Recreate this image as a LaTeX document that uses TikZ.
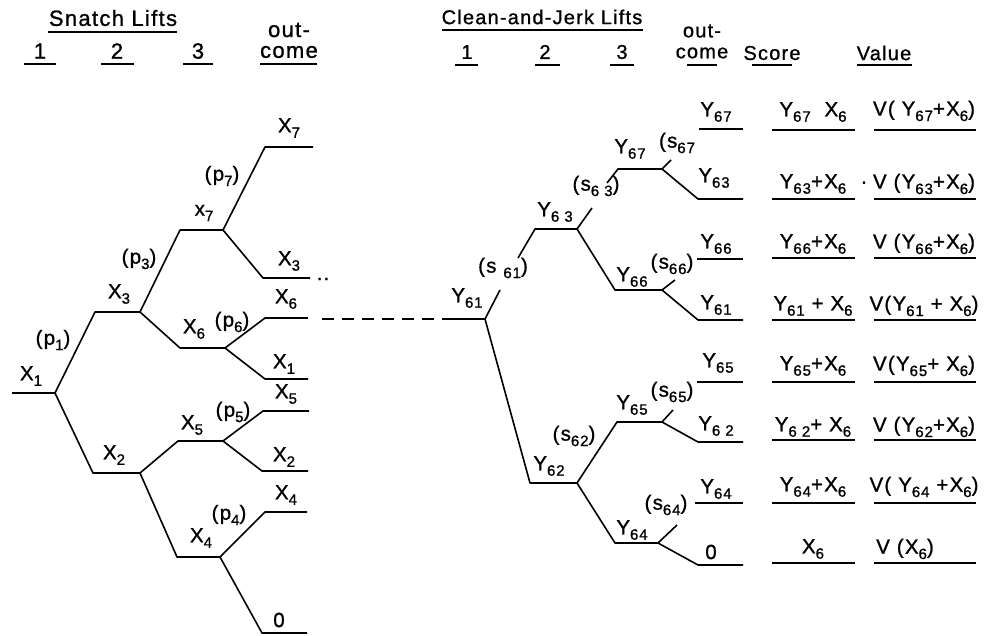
\documentclass[tikz,border=0pt]{standalone}
\usepackage{fontspec}
\setmainfont[LetterSpace=6,FakeBold=1]{Liberation Sans}
\newcommand\Sb[2]{#1\raisebox{-0.5ex}{\fontsize{15}{15}\selectfont #2}}
\begin{document}
\begin{tikzpicture}[x=1pt,y=-1pt,
  lbl/.style={inner sep=0pt,font=\fontsize{20.5}{20.5}\selectfont},
  hdr/.style={inner sep=0pt,font=\fontsize{22}{22}\selectfont},
  hdrs/.style={inner sep=0pt,font=\fontsize{20}{20}\selectfont},
  ln/.style={line width=1.6pt,line join=round},
  ul/.style={line width=1.7pt}]
\useasboundingbox[fill=white] (0,0) rectangle (985,636);

% ---------------- headers ----------------
\node[hdr] (hSL) at (113,18) {Snatch Lifts};
\draw[ul] (48,32) -- (177,32);
\node[hdr] (hL1) at (40,51) {1};
\node[hdr] (hL2) at (117,51) {2};
\node[hdr] (hL3) at (198,51) {3};
\node[hdr] (hLo1) at (289,30) {out-};
\node[hdr] (hLo2) at (289,52) {come};
\draw[ul] (24,64) -- (56,64) (101,64) -- (134,64) (183,64) -- (213,64) (260,64) -- (317,64);

\node[hdrs] (hCJ) at (542,17) {Clean-and-Jerk Lifts};
\draw[ul] (442,30) -- (643,30);
\node[hdrs] (hR1) at (467,52) {1};
\node[hdrs] (hR2) at (545,52) {2};
\node[hdrs] (hR3) at (622,52) {3};
\node[hdrs] (hRo1) at (702,31) {out-};
\node[hdrs] (hRo2) at (702,53) {come};
\node[hdrs] (hSc) at (772,53) {Score};
\node[hdrs] (hVa) at (884,53) {Value};
\draw[ul] (455,65) -- (478,65) (535,65) -- (560,65) (610,65) -- (634,65)
          (687,65) -- (717,65) (752,65) -- (792,65) (857,65) -- (912,65);

% ---------------- left tree coordinates ----------------
\coordinate (A0) at (12,393);  \coordinate (A) at (55,393);
\coordinate (B1) at (95,312);  \coordinate (B) at (140,312);
\coordinate (C1) at (180,230); \coordinate (C) at (223,230);
\coordinate (L7a) at (265,147); \coordinate (L7b) at (313,147);
\coordinate (L3a) at (263,278); \coordinate (L3b) at (310,278);
\coordinate (D1) at (180,348); \coordinate (D) at (225,348);
\coordinate (L6a) at (265,318); \coordinate (L6b) at (308,318);
\coordinate (L1a) at (265,379); \coordinate (L1b) at (308,379);
\coordinate (E1) at (93,473);  \coordinate (E) at (140,473);
\coordinate (F1) at (178,441); \coordinate (F) at (223,441);
\coordinate (L5a) at (263,411); \coordinate (L5b) at (309,411);
\coordinate (L2a) at (262,471); \coordinate (L2b) at (308,471);
\coordinate (G1) at (177,557); \coordinate (G) at (220,557);
\coordinate (L4a) at (265,512); \coordinate (L4b) at (307,512);
\coordinate (L0a) at (262,633); \coordinate (L0b) at (307,633);

\draw[ln] (A0) -- (A) -- (B1) -- (B) -- (C1) -- (C) -- (L7a) -- (L7b);
\draw[ln] (C) -- (L3a) -- (L3b);
\draw[ln] (B) -- (D1) -- (D) -- (L6a) -- (L6b);
\draw[ln] (D) -- (L1a) -- (L1b);
\draw[ln] (A) -- (E1) -- (E) -- (F1) -- (F) -- (L5a) -- (L5b);
\draw[ln] (F) -- (L2a) -- (L2b);
\draw[ln] (E) -- (G1) -- (G) -- (L4a) -- (L4b);
\draw[ln] (G) -- (L0a) -- (L0b);

% left labels
\node[lbl] (nX1) at (31,376) {\Sb{X}{1}};
\node[lbl] (np1) at (53,340) {(p\Sb{}{1})};
\node[lbl] (nX3) at (119,294) {\Sb{X}{3}};
\node[lbl] (np3) at (139,259) {(p\Sb{}{3})};
\node[lbl] (nx7) at (204,213) {\Sb{x}{7}};
\node[lbl] (np7) at (222,176) {(p\Sb{}{7})};
\node[lbl] (lX7) at (289,128) {\Sb{X}{7}};
\node[lbl] (lX3) at (289,261) {\Sb{X}{3}};
\node[lbl] (dots) at (323,279) {..};
\node[lbl] (nX6) at (194,329) {\Sb{X}{6}};
\node[lbl] (np6) at (232,322) {(p\Sb{}{6})};
\node[lbl] (lX6) at (286,299) {\Sb{X}{6}};
\node[lbl] (lX1) at (284,364) {\Sb{X}{1}};
\node[lbl] (nX2) at (114,455) {\Sb{X}{2}};
\node[lbl] (nX5) at (192,425) {\Sb{X}{5}};
\node[lbl] (np5) at (233,412) {(p\Sb{}{5})};
\node[lbl] (lX5) at (286,394) {\Sb{X}{5}};
\node[lbl] (lX2) at (284,457) {\Sb{X}{2}};
\node[lbl] (np4) at (229,515) {(p\Sb{}{4})};
\node[lbl] (nX4) at (201,538) {\Sb{X}{4}};
\node[lbl] (lX4) at (286,495) {\Sb{X}{4}};
\node[lbl] (l0) at (279,620) {0};

% ---------------- right tree coordinates ----------------
\coordinate (R0) at (445,319); \coordinate (R) at (485,319);
\coordinate (Rt1) at (500,290); \coordinate (Rt2) at (518,258);
\coordinate (S1) at (535,229); \coordinate (S) at (577,229);
\coordinate (St1) at (592,208); \coordinate (St2) at (607,183);
\coordinate (T1) at (618,169); \coordinate (T) at (662,169);
\coordinate (Tt) at (671,160);
\coordinate (M67a) at (699,129); \coordinate (M67b) at (743,129);
\coordinate (M63a) at (698,199); \coordinate (M63b) at (743,199);
\coordinate (U1) at (615,290); \coordinate (U) at (662,290);
\coordinate (Ut) at (675,280);
\coordinate (M66a) at (697,259); \coordinate (M66b) at (743,259);
\coordinate (M61a) at (698,320); \coordinate (M61b) at (743,320);
\coordinate (V1) at (530,483); \coordinate (V) at (577,483);
\coordinate (W1) at (617,422); \coordinate (W) at (662,422);
\coordinate (Wt) at (673,410);
\coordinate (M65a) at (697,382); \coordinate (M65b) at (743,382);
\coordinate (M62a) at (698,442); \coordinate (M62b) at (743,442);
\coordinate (Z1) at (615,543); \coordinate (Z) at (658,543);
\coordinate (Zt) at (677,525);
\coordinate (M64a) at (695,503); \coordinate (M64b) at (743,503);
\coordinate (M0a) at (698,565); \coordinate (M0b) at (743,565);

\draw[ln,dash pattern=on 12pt off 8pt] (L6b) ++(14,1) -- (R0);
\draw[ln] (R0) -- (R) -- (Rt1);
\draw[ln] (Rt2) -- (S1) -- (S) -- (St1);
\draw[ln] (St2) -- (T1) -- (T) -- (Tt);
\draw[ln] (T) -- (M63a) -- (M63b);
\draw[ln] (M67a) -- (M67b);
\draw[ln] (S) -- (U1) -- (U) -- (Ut);
\draw[ln] (U) -- (M61a) -- (M61b);
\draw[ln] (M66a) -- (M66b);
\draw[ln] (R) -- (V1) -- (V) -- (W1) -- (W) -- (Wt);
\draw[ln] (W) -- (M62a) -- (M62b);
\draw[ln] (M65a) -- (M65b);
\draw[ln] (V) -- (Z1) -- (Z) -- (Zt);
\draw[ln] (Z) -- (M0a) -- (M0b);
\draw[ln] (M64a) -- (M64b);

% right labels
\node[lbl] (nY61) at (467,298) {\Sb{Y}{61}};
\node[lbl] (ns61) at (503,268) {(s \Sb{}{61})};
\node[lbl] (nY63) at (555,212) {\Sb{Y}{6 3}};
\node[lbl] (ns63) at (596,186) {(s\Sb{}{6 3})};
\node[lbl] (nY67) at (630,149) {\Sb{Y}{67}};
\node[lbl] (ns67) at (677,143) {(s\Sb{}{67}};
\node[lbl] (nY66) at (632,277) {\Sb{Y}{66}};
\node[lbl] (ns66) at (672,264) {(s\Sb{}{66})};
\node[lbl] (nY62) at (549,466) {\Sb{Y}{62}};
\node[lbl] (ns62) at (574,436) {(s\Sb{}{62})};
\node[lbl] (nY65) at (632,405) {\Sb{Y}{65}};
\node[lbl] (ns65) at (672,392) {(s\Sb{}{65})};
\node[lbl] (nY64) at (632,530) {\Sb{Y}{64}};
\node[lbl] (ns64) at (666,505) {(s\Sb{}{64})};

\node[lbl] (lY67) at (716,112) {\Sb{Y}{67}};
\node[lbl] (lY63) at (714,178) {\Sb{Y}{63}};
\node[lbl] (lY66) at (716,244) {\Sb{Y}{66}};
\node[lbl] (lY61) at (716,305) {\Sb{Y}{61}};
\node[lbl] (lY65) at (718,363) {\Sb{Y}{65}};
\node[lbl] (lY62) at (716,426) {\Sb{Y}{6 2}};
\node[lbl] (lY64) at (716,489) {\Sb{Y}{64}};
\node[lbl] (lO) at (711,552) {0};

% score and value columns
\node[lbl] (sc1) at (813,112) {\Sb{Y}{67}\ \ \Sb{X}{6}};
\node[lbl] (sc2) at (813,184) {\Sb{Y}{63}+\Sb{X}{6}};
\node[lbl] (dot2) at (864,185) {·};
\node[lbl] (sc3) at (813,244) {\Sb{Y}{66}+\Sb{X}{6}};
\node[lbl] (sc4) at (813,306) {\Sb{Y}{61} + \Sb{X}{6}};
\node[lbl] (sc5) at (813,366) {\Sb{Y}{65}+\Sb{X}{6}};
\node[lbl] (sc6) at (813,427) {\Sb{Y}{6 2}+ \Sb{X}{6}};
\node[lbl] (sc7) at (813,487) {\Sb{Y}{64}+\Sb{X}{6}};
\node[lbl] (sc8) at (813,549) {\Sb{X}{6}};

\node[lbl] (va1) at (924,111) {V( \Sb{Y}{67}+\Sb{X}{6})};
\node[lbl] (va2) at (924,184) {V (\Sb{Y}{63}+\Sb{X}{6})};
\node[lbl] (va3) at (924,244) {V (\Sb{Y}{66}+\Sb{X}{6})};
\node[lbl] (va4) at (924,306) {V(\Sb{Y}{61} + \Sb{X}{6})};
\node[lbl] (va5) at (924,366) {V(\Sb{Y}{65}+ \Sb{X}{6})};
\node[lbl] (va6) at (924,427) {V (\Sb{Y}{62}+\Sb{X}{6})};
\node[lbl] (va7) at (924,487) {V( \Sb{Y}{64} +\Sb{X}{6})};
\node[lbl] (va8) at (905,549) {V (\Sb{X}{6})};

\foreach \yy in {130,199,258,320,382,440,503,563}{
  \draw[ul] (772,\yy) -- (855,\yy);
  \draw[ul] (874,\yy) -- (976,\yy);
}
\end{tikzpicture}
\end{document}
